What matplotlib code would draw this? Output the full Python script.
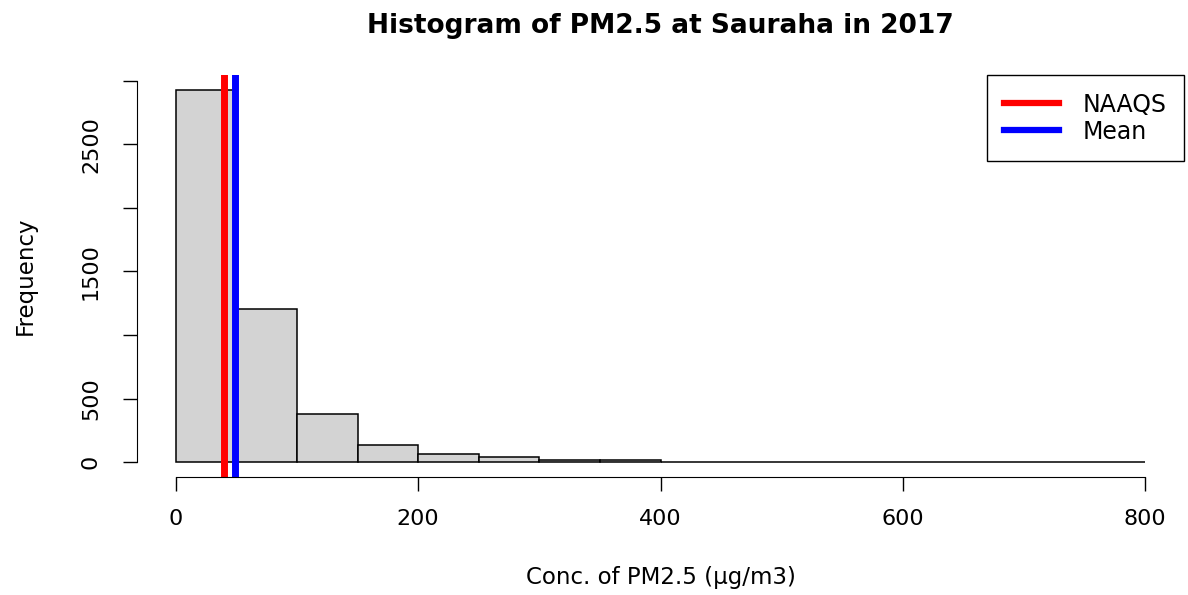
import numpy as np
import matplotlib
matplotlib.use("Agg")
import matplotlib.pyplot as plt
from matplotlib.ticker import FixedLocator, FixedFormatter

# the reference text is drawn wide, DejaVu Sans comes closer to that than Arial
plt.rcParams['font.family'] = ['DejaVu Sans']

# histogram bins (width 50) and counts
bin_edges = np.arange(0, 801, 50)
counts = [2927, 1203, 377, 135, 63, 40, 17, 15, 3, 2, 1, 1, 1, 0, 1, 1]
naaqs = 40
mean_pm = 48.5

y_ticks = [0, 500, 1000, 1500, 2000, 2500, 3000]
y_tick_labels = ['0', '500', '', '1500', '', '2500', '']
x_ticks = [0, 200, 400, 600, 800]

W, H = 1188, 595
fig = plt.figure(figsize=(W / 100, H / 100), dpi=100)
ax = fig.add_axes([137 / W, (H - 477) / H, (1184 - 137) / W, (477 - 75) / H])

ax.bar(bin_edges[:-1], counts, width=np.diff(bin_edges), align='edge',
       color='#d3d3d3', edgecolor='black', linewidth=1.1)

ax.axvline(naaqs, color='red', lw=5, label='NAAQS')
ax.axvline(mean_pm, color='blue', lw=5, label='Mean')

# R style extents: 4% padding around the data range
ax.set_xlim(-32, 832)
ymax = max(counts)
ax.set_ylim(-0.04 * ymax, 1.04 * ymax)

for s in ['top', 'right']:
    ax.spines[s].set_visible(False)
ax.spines['bottom'].set_bounds(0, 800)
ax.spines['left'].set_bounds(0, 3000)

ax.xaxis.set_major_locator(FixedLocator(x_ticks))
ax.yaxis.set_major_locator(FixedLocator(y_ticks))
ax.yaxis.set_major_formatter(FixedFormatter(y_tick_labels))
ax.tick_params(axis='both', length=10, width=1, labelsize=16, direction='out')
ax.tick_params(axis='x', pad=13)
ax.tick_params(axis='y', pad=16, labelrotation=90)
for lab in ax.get_yticklabels():
    lab.set_va('center')

ax.set_title('Histogram of PM2.5 at Sauraha in 2017', fontsize=19,
             fontweight='bold', pad=30)
ax.set_xlabel('Conc. of PM2.5 (µg/m3)', fontsize=16.5)
ax.xaxis.label.set_va('center')
ax.xaxis.set_label_coords(0.5, -0.251)
ax.set_ylabel('Frequency', fontsize=16.5)
ax.yaxis.label.set_va('center')
ax.yaxis.set_label_coords(-0.107, 0.5)

leg = ax.legend(loc='upper right', borderaxespad=0, fancybox=False,
                edgecolor='black', framealpha=1, fontsize=17,
                handlelength=2.3, handletextpad=1.0, labelspacing=0.12,
                borderpad=0.75)
leg.get_frame().set_linewidth(1.0)
for line in leg.get_lines():
    line.set_linewidth(4.5)

fig.savefig('out.png', dpi=100)
